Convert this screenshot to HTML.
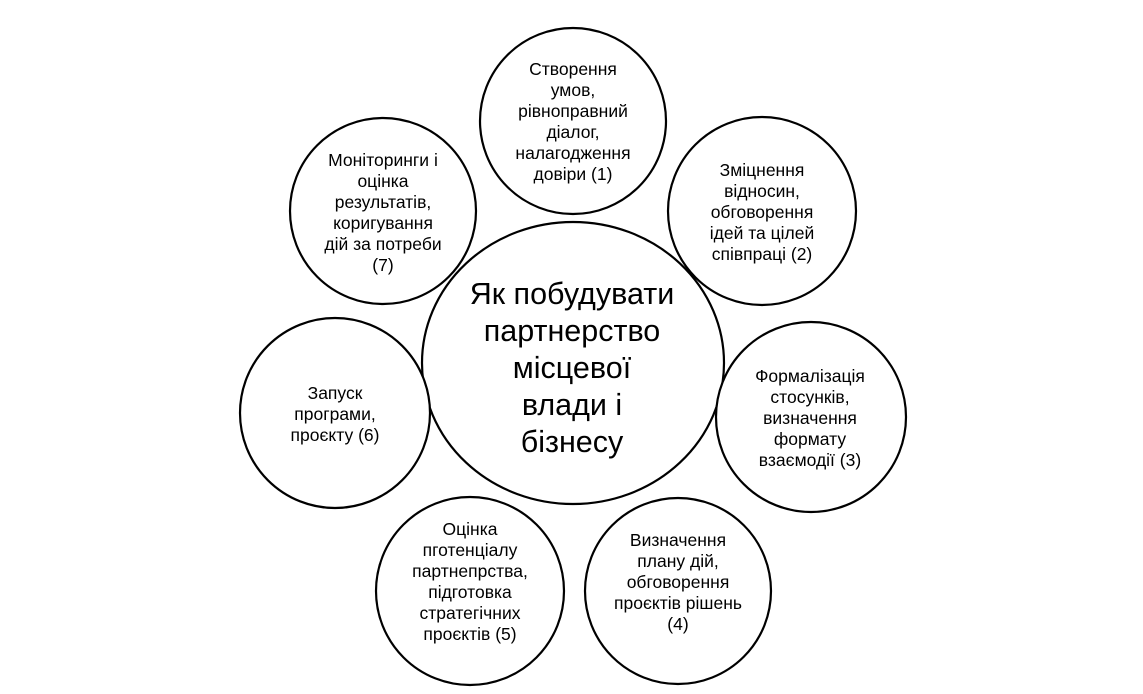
<!DOCTYPE html>
<html><head><meta charset="utf-8"><style>
html,body{margin:0;padding:0;background:#fff;}
svg{display:block;}
text{font-family:"Liberation Sans","DejaVu Sans",sans-serif;fill:#000;text-anchor:middle;}
.s{font-size:17.5px;}
.c{font-size:30.5px;}
</style></head><body>
<svg width="1143" height="694" viewBox="0 0 1143 694" xmlns="http://www.w3.org/2000/svg">
<g fill="#fff" stroke="#000" stroke-width="2.2">
<ellipse cx="573" cy="363" rx="151" ry="141"/>
<circle cx="573" cy="121" r="93"/>
<circle cx="762" cy="211" r="94"/>
<circle cx="811" cy="417" r="95"/>
<circle cx="678" cy="591" r="93"/>
<circle cx="470" cy="591" r="94"/>
<circle cx="335" cy="413" r="95"/>
<circle cx="383" cy="211" r="93"/>
</g>
<text class="c"><tspan x="572" y="304">Як побудувати</tspan><tspan x="572" y="341">партнерство</tspan><tspan x="572" y="378">місцевої</tspan><tspan x="572" y="415">влади і</tspan><tspan x="572" y="452">бізнесу</tspan></text>
<text class="s"><tspan x="573" y="75">Створення</tspan><tspan x="573" y="96">умов,</tspan><tspan x="573" y="117">рівноправний</tspan><tspan x="573" y="138">діалог,</tspan><tspan x="573" y="159">налагодження</tspan><tspan x="573" y="180">довіри (1)</tspan></text>
<text class="s"><tspan x="762" y="176">Зміцнення</tspan><tspan x="762" y="197">відносин,</tspan><tspan x="762" y="218">обговорення</tspan><tspan x="762" y="239">ідей та цілей</tspan><tspan x="762" y="260">співпраці (2)</tspan></text>
<text class="s"><tspan x="810" y="382">Формалізація</tspan><tspan x="810" y="403">стосунків,</tspan><tspan x="810" y="424">визначення</tspan><tspan x="810" y="445">формату</tspan><tspan x="810" y="466">взаємодії (3)</tspan></text>
<text class="s"><tspan x="678" y="546">Визначення</tspan><tspan x="678" y="567">плану дій,</tspan><tspan x="678" y="588">обговорення</tspan><tspan x="678" y="609">проєктів рішень</tspan><tspan x="678" y="630">(4)</tspan></text>
<text class="s"><tspan x="470" y="535">Оцінка</tspan><tspan x="470" y="556">пготенціалу</tspan><tspan x="470" y="577">партнепрства,</tspan><tspan x="470" y="598">підготовка</tspan><tspan x="470" y="619">стратегічних</tspan><tspan x="470" y="640">проєктів  (5)</tspan></text>
<text class="s"><tspan x="335" y="399">Запуск</tspan><tspan x="335" y="420">програми,</tspan><tspan x="335" y="441">проєкту (6)</tspan></text>
<text class="s"><tspan x="383" y="166">Моніторинги і</tspan><tspan x="383" y="187">оцінка</tspan><tspan x="383" y="208">результатів,</tspan><tspan x="383" y="229">коригування</tspan><tspan x="383" y="250">дій за потреби</tspan><tspan x="383" y="271">(7)</tspan></text>
</svg>
</body></html>
